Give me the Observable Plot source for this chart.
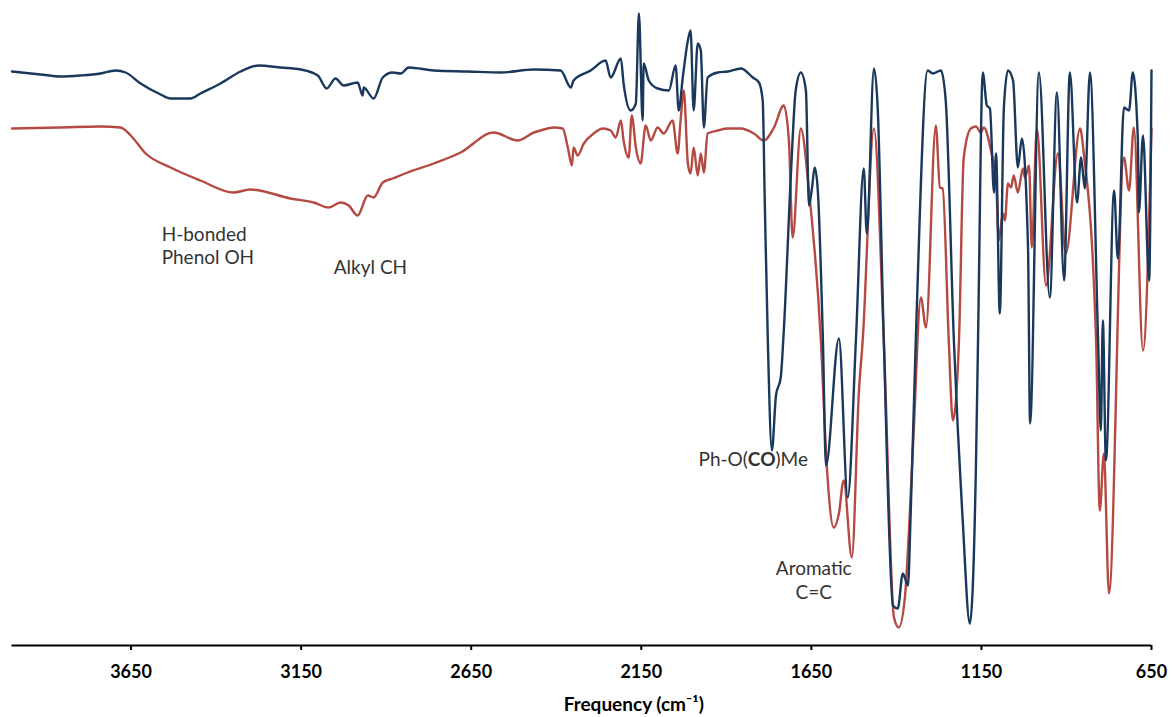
<!DOCTYPE html>
<html>
<head>
<meta charset="utf-8">
<script src="https://cdn.jsdelivr.net/npm/d3@7"></script>
<script src="https://cdn.jsdelivr.net/npm/@observablehq/plot@0.6"></script>
<style>
  html, body { margin: 0; padding: 0; background: #fff; }
  #chart svg { display: block; }
</style>
</head>
<body>
<div id="chart"></div>
<script>
// Tick labels on the wavenumber axis (cm-1)
const xTicks = [3650, 3150, 2650, 2150, 1650, 1150, 650];

// Upper (dark blue) spectrum: wavenumber (cm-1) and transmittance (a.u.)
const blueWn = [4000, 3916, 3857, 3799, 3740, 3696, 3666, 3622, 3563, 3534, 3475, 3446, 3387, 3328, 3275, 3210, 3151, 3101, 3075, 3049, 3025, 2984, 2969, 2966, 2937, 2910, 2881, 2857, 2834, 2760, 2660, 2563, 2466, 2387, 2357, 2349, 2299, 2255, 2240, 2210, 2202, 2181, 2166, 2157, 2146, 2143, 2128, 2102, 2069, 2049, 2040, 2028, 2013, 2005, 1996, 1984, 1975, 1966, 1955, 1925, 1896, 1857, 1822, 1804, 1793, 1787, 1778, 1766, 1754, 1740, 1731, 1710, 1696, 1681, 1666, 1657, 1649, 1640, 1631, 1616, 1607, 1569, 1543, 1519, 1496, 1487, 1466, 1455, 1437, 1410, 1396, 1381, 1366, 1358, 1343, 1308, 1293, 1269, 1255, 1231, 1205, 1184, 1166, 1160, 1146, 1134, 1125, 1113, 1107, 1096, 1084, 1072, 1057, 1043, 1031, 1013, 1007, 981, 949, 928, 907, 890, 869, 857, 846, 831, 807, 799, 793, 784, 760, 749, 731, 716, 705, 690, 687, 675, 657, 650];
const blueT = [114.8, 114.2, 113.8, 114, 114.4, 115, 114.6, 112.4, 110.2, 109.4, 109.4, 110.4, 112.4, 114.8, 116, 115.6, 115.2, 114, 111.4, 113.4, 112, 112.6, 110, 111.6, 109.4, 113.6, 114.6, 114.4, 115.6, 115, 114.8, 114.6, 115.2, 115, 111.6, 113, 115, 117, 113.6, 117.4, 112.4, 107, 108.4, 126.4, 105, 116.4, 113, 111.4, 111, 116, 107, 113.6, 121, 123, 107, 120.4, 119, 103.6, 113.6, 114.6, 114.8, 115.4, 113.6, 112.6, 109, 89, 61, 39, 50, 53.6, 63, 94.4, 111, 114.6, 111, 88, 91, 95.6, 91, 61, 36, 61.4, 29.6, 61, 95.4, 82.4, 115.4, 107.6, 61, 8, 7.4, 14.4, 12, 26.4, 61, 115, 114.4, 115, 109, 61, 25, 4.4, 36.4, 61, 114.6, 108, 107.4, 90.6, 98.4, 66.4, 107.6, 115, 113, 95.6, 101.4, 79.6, 44.4, 114.6, 69.6, 110.6, 73, 114.6, 88.6, 97.6, 91.4, 114.6, 61, 43, 65, 37, 91, 77.4, 107.6, 107, 114.6, 101, 86.6, 102, 73, 115];

// Lower (red) spectrum: wavenumber (cm-1) and transmittance (a.u.)
const redWn = [4000, 3857, 3740, 3681, 3651, 3607, 3534, 3446, 3349, 3299, 3181, 3113, 3069, 3034, 3010, 2984, 2954, 2937, 2910, 2881, 2837, 2760, 2681, 2584, 2513, 2466, 2446, 2407, 2381, 2366, 2354, 2349, 2337, 2319, 2290, 2263, 2240, 2225, 2210, 2202, 2187, 2178, 2166, 2152, 2137, 2122, 2102, 2084, 2058, 2043, 2034, 2025, 2013, 2005, 1996, 1984, 1975, 1966, 1955, 1925, 1896, 1857, 1819, 1790, 1760, 1731, 1716, 1705, 1681, 1657, 1622, 1605, 1584, 1569, 1555, 1531, 1510, 1499, 1466, 1437, 1407, 1393, 1375, 1363, 1349, 1328, 1313, 1284, 1272, 1264, 1246, 1234, 1216, 1202, 1181, 1166, 1152, 1143, 1122, 1107, 1099, 1087, 1081, 1072, 1063, 1055, 1043, 1028, 1022, 1010, 1002, 987, 960, 925, 902, 860, 849, 813, 802, 790, 775, 731, 716, 702, 675, 650];
const redT = [103.4, 103.6, 103.8, 103.6, 102, 98.4, 95.6, 93, 90.6, 91.2, 89.4, 88.6, 87.6, 88.6, 88, 86, 90, 89.6, 92.6, 93.4, 94.6, 96.4, 98.6, 102.6, 101, 102.6, 103, 103.6, 103.4, 99.6, 96, 99.6, 98, 100.4, 102.4, 103.4, 103, 101.6, 105, 101, 97.6, 106, 99.6, 96.4, 104, 101, 103.6, 102.4, 105, 98.4, 105.4, 111, 96.4, 94.4, 99.6, 94, 98.4, 94.6, 102.4, 103, 103.4, 103.4, 102.4, 101, 103.6, 108, 101, 81.6, 103.4, 91, 61, 36.4, 23.6, 26.4, 33, 17.6, 51, 61, 103.4, 61, 5.6, 3.6, 9.6, 23, 43, 69.6, 63.6, 104, 91.6, 91.4, 61, 45, 61, 97.6, 103.4, 103.8, 102.6, 103.6, 99, 93, 81, 86.4, 85, 92.4, 91.6, 94, 90.6, 95.4, 93.6, 96, 79.6, 103.4, 72, 98.4, 78.4, 103.4, 98.4, 61, 27, 38.4, 10.4, 97.6, 91, 103.6, 59, 103.4];

// Peak annotations
const noteText = ["H-bonded", "Phenol OH", "Alkyl CH", "Ph-O(CO)Me", "Aromatic", "C=C"];
const noteWn = [3560, 3560, 3054, 1660, 1643, 1643];
const noteT = [82.2, 77.6, 75.6, 37.2, 15.4, 10.6];
const noteAnchor = ["start", "start", "start", "end", "middle", "middle"];

const axisLabel = "Frequency (cm\u207B\u00B9)";

const blue = blueWn.map((w, i) => ({wn: w, t: blueT[i]}));
const red = redWn.map((w, i) => ({wn: w, t: redT[i]}));
const notes = noteText.map((s, i) => ({s, wn: noteWn[i], t: noteT[i], a: noteAnchor[i]}));

const blueColor = "#19385c";
const redColor = "#b44a42";

const chart = Plot.plot({
  width: 1172,
  height: 717,
  marginLeft: 11.5,
  marginRight: 21,
  marginTop: 0,
  marginBottom: 72,
  style: {fontFamily: "Lato, 'Open Sans', sans-serif", background: "#fff", overflow: "visible"},
  x: {domain: [4000, 650], label: null},
  y: {domain: [0, 129], axis: null},
  marks: [
    Plot.line(red, {x: "wn", y: "t", stroke: redColor, strokeWidth: 2.4, curve: "monotone-x"}),
    Plot.line(blue, {x: "wn", y: "t", stroke: blueColor, strokeWidth: 2.4, curve: "monotone-x"}),
    Plot.ruleY([0], {stroke: "#000", strokeWidth: 2.2}),
    Plot.axisX({ticks: xTicks, tickFormat: d => String(d), tickSize: 5, tickPadding: 15, fontSize: 18, fontWeight: "bold", stroke: "#000", strokeWidth: 2, color: "#000", label: null}),
    Plot.text(notes.filter(d => d.a === "start"), {x: "wn", y: "t", text: "s", textAnchor: "start", fontSize: 19, fill: "#333"}),
    Plot.text(notes.filter(d => d.a === "end"), {x: "wn", y: "t", text: "s", textAnchor: "end", fontSize: 19, fill: "#333"}),
    Plot.text(notes.filter(d => d.a === "middle"), {x: "wn", y: "t", text: "s", textAnchor: "middle", fontSize: 19, fill: "#333"}),
    Plot.text([axisLabel], {x: 2172, frameAnchor: "bottom", dy: 65, text: d => d, fontSize: 19, fontWeight: "bold", fill: "#000"})
  ]
});

document.getElementById("chart").appendChild(chart);

// Bold "CO" inside the carbonyl annotation
chart.querySelectorAll("text").forEach(el => {
  if (el.textContent === "Ph-O(CO)Me") {
    el.textContent = "";
    const parts = [["Ph-O(", "normal"], ["CO", "bold"], [")Me", "normal"]];
    for (const [s, w] of parts) {
      const t = document.createElementNS("http://www.w3.org/2000/svg", "tspan");
      t.textContent = s;
      t.setAttribute("font-weight", w);
      el.appendChild(t);
    }
  }
});
</script>
</body>
</html>
